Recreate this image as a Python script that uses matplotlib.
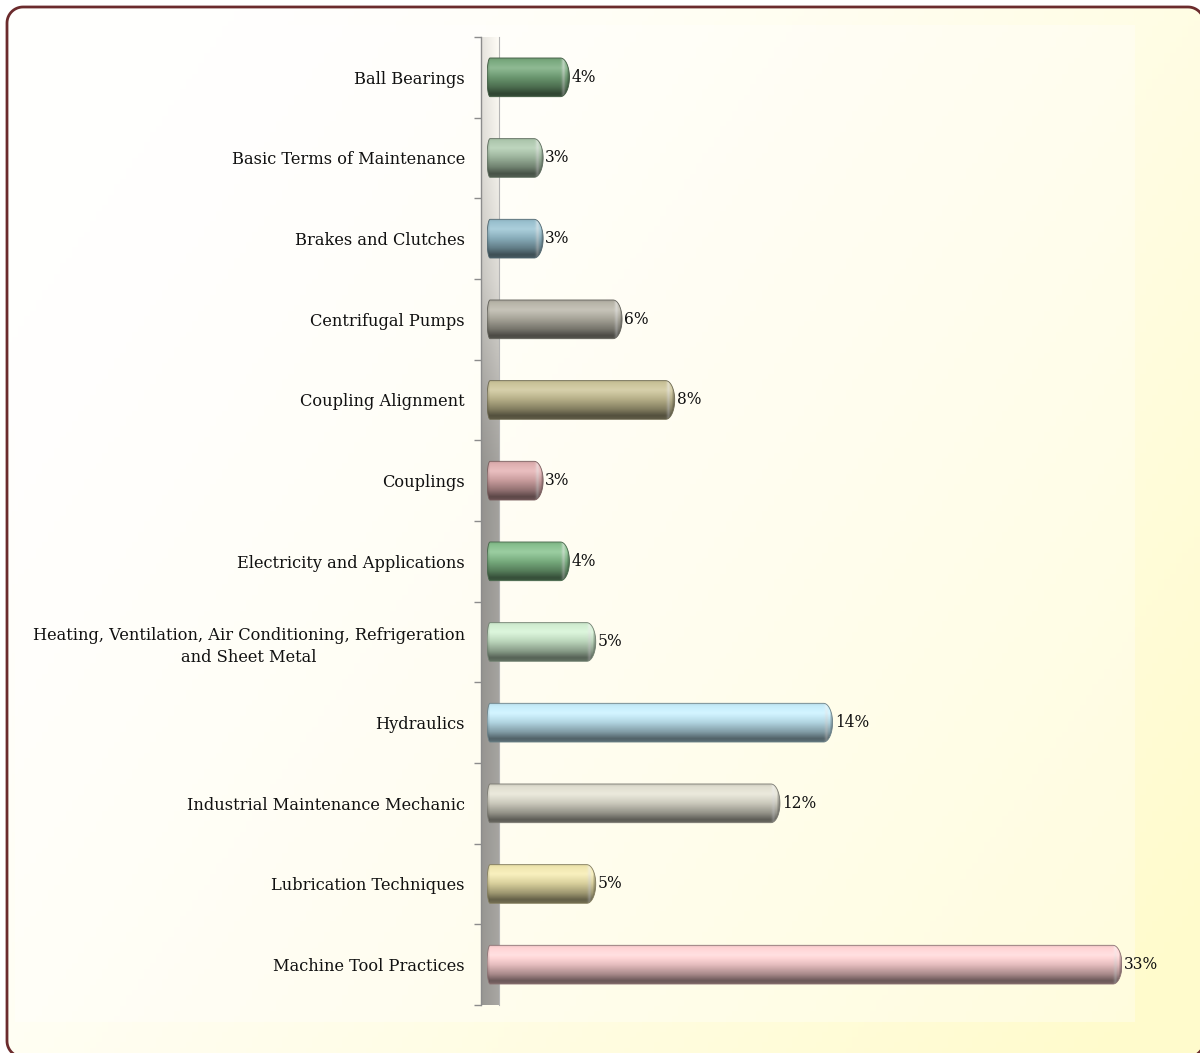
import numpy as np
import matplotlib
matplotlib.use("Agg")
import matplotlib.pyplot as plt
from matplotlib.path import Path
from matplotlib.patches import PathPatch, Rectangle
import matplotlib.colors as mcolors

# ---------------- data ----------------
categories = [
    "Ball Bearings",
    "Basic Terms of Maintenance",
    "Brakes and Clutches",
    "Centrifugal Pumps",
    "Coupling Alignment",
    "Couplings",
    "Electricity and Applications",
    "Heating, Ventilation, Air Conditioning, Refrigeration\nand Sheet Metal",
    "Hydraulics",
    "Industrial Maintenance Mechanic",
    "Lubrication Techniques",
    "Machine Tool Practices",
]
percent_values = [4, 3, 3, 6, 8, 3, 4, 5, 14, 12, 5, 33]
bar_colors = [
    "#72a477", "#a9c4a9", "#93bccb", "#b3b0a3", "#c6be92", "#dcaaab",
    "#80bb87", "#cdebcd", "#c2eaf8", "#dedccd", "#eee4aa", "#ffd1d2",
]

# ---------------- layout ----------------
W, H = 1200, 1053
fig = plt.figure(figsize=(W / 100, H / 100), dpi=100)
fig.patch.set_facecolor("white")
FONT = "DejaVu Serif"
FS = 11.7

def fx(px):
    return px / W

def fy(py):
    return 1 - py / H

def rounded_rect_path(x0, y0, x1, y1, r):
    """Polygonal rounded rectangle (pixel coords, y up)."""
    pts = []
    corners = [(x1 - r, y1 - r, 0.0), (x0 + r, y1 - r, 90.0),
               (x0 + r, y0 + r, 180.0), (x1 - r, y0 + r, 270.0)]
    for cx, cy, a0 in corners:
        a = np.radians(np.linspace(a0, a0 + 90, 16))
        pts.append(np.column_stack([cx + r * np.cos(a), cy + r * np.sin(a)]))
    pts = np.vstack(pts + [pts[0][:1]])
    codes = [Path.MOVETO] + [Path.LINETO] * (len(pts) - 2) + [Path.CLOSEPOLY]
    return Path(pts, codes)

# background (pixel coordinates, y measured upward)
bg = fig.add_axes([0, 0, 1, 1])
bg.set_axis_off()
gy, gx = np.mgrid[0:1:200j, 0:1:200j]
t = np.clip(0.75 * gx + 0.45 * gy - 0.15, 0, 1) ** 1.3
white = np.array([1.0, 1.0, 0.995])
yellow = np.array([1.0, 0.985, 0.80])
grad = white[None, None, :] * (1 - t[..., None]) + yellow[None, None, :] * t[..., None]
im_bg = bg.imshow(grad, extent=(0, W, 0, H), origin="upper", aspect="auto", zorder=0)
border = PathPatch(rounded_rect_path(7, -4, 1204, H - 7, 16), facecolor="none",
                   edgecolor="#6b2b2d", linewidth=2.0, zorder=3, transform=bg.transData)
bg.add_patch(border)
im_bg.set_clip_path(border)
bg.add_patch(Rectangle((15, H - 1022), 1120, 997, facecolor="white", alpha=0.35,
                       edgecolor="none", zorder=1))
bg.set_xlim(0, W)
bg.set_ylim(0, H)

n = len(categories)
ax_left, ax_right = 487, 1122
ax_top, ax_bot = 37, 1005

# wall
wall = fig.add_axes([fx(481), fy(ax_bot), (499 - 481) / W, (ax_bot - ax_top) / H])
wy = np.linspace(0, 1, 300)
stops_t = [0.0, 0.12, 0.25, 0.38, 0.45, 1.0]
stops_v = [0.97, 0.93, 0.84, 0.68, 0.62, 0.64]
vals = np.interp(wy, stops_t, stops_v)
wx = np.linspace(0, 1, 20)
shade = vals[:, None] * (0.93 + 0.1 * wx[None, :])
wall_img = np.clip(np.dstack([shade, shade * 0.99, shade * 0.965]), 0, 1)
wall.imshow(wall_img, extent=(0, 1, n - 0.5, -0.5), aspect="auto")
wall.set_xlim(0, 1)
wall.set_ylim(n - 0.5, -0.5)
wall.set_xticks([])
wall.set_yticks(np.arange(-0.5, n, 1.0))
wall.set_yticklabels([])
wall.tick_params(axis="y", length=5, width=1.0, color="#8c8c8c", direction="out")
for s in ["top", "bottom"]:
    wall.spines[s].set_visible(False)
wall.spines["left"].set_color("#8c8c8c")
wall.spines["left"].set_linewidth(1.0)
wall.spines["right"].set_color("#b4b4b4")
wall.spines["right"].set_linewidth(0.8)

# bars axes
ax = fig.add_axes([fx(ax_left), fy(ax_bot), (ax_right - ax_left) / W, (ax_bot - ax_top) / H])
ax.patch.set_alpha(0)
XMIN, XMAX = 0.867, 25.0
ax.set_xlim(XMIN, XMAX)
ax.set_ylim(n - 0.5, -0.5)
for s in ax.spines.values():
    s.set_visible(False)
ax.set_xticks([])

px_per_x = (ax_right - ax_left) / (XMAX - XMIN)
bar_h = 0.48
cap_px = 9.0
left_px = 3.0

t_stops = [0.0, 0.06, 0.25, 0.5, 0.75, 0.92, 1.0]
m_stops = [0.90, 1.0, 1.04, 0.90, 0.66, 0.42, 0.48]
w_stops = [0.05, 0.05, 0.18, 0.02, 0.0, 0.0, 0.0]

for i, (v, col) in enumerate(zip(percent_values, bar_colors)):
    end = min(v, XMAX)
    base = np.array(mcolors.to_rgb(col))
    L = (end - XMIN) * px_per_x
    nx = max(int(L), 10)
    ny = 60
    ty = np.linspace(0, 1, ny)
    mult = np.interp(ty, t_stops, m_stops)
    wmix = np.interp(ty, t_stops, w_stops)
    xs = np.linspace(0, L, nx)
    d = L - xs  # px from the end
    hl = np.exp(-((d - 6.0) / 1.8) ** 2) * 0.5
    dark_end = np.clip(1 - (3.0 - d) / 3.0 * 0.35, 0.65, 1.0)
    dark_left = np.clip(0.85 + 0.15 * xs / 3.0, 0.85, 1.0)
    img = base[None, None, :] * mult[:, None, None]
    img = img * (1 - wmix[:, None, None]) + wmix[:, None, None]
    img = img * dark_end[None, :, None] * dark_left[None, :, None]
    img = img * (1 - hl[None, :, None]) + hl[None, :, None] * \
        (0.6 + 0.4 * (1 - ty))[:, None, None]
    img = np.clip(img, 0, 1)

    y0, y1 = i - bar_h / 2, i + bar_h / 2
    c = cap_px / px_per_x
    lr = left_px / px_per_x
    hy = bar_h / 2
    th = np.linspace(-np.pi / 2, np.pi / 2, 40)
    cap = np.column_stack([end - c + c * np.cos(th), i + hy * np.sin(th)])
    thl = np.linspace(np.pi / 2, 3 * np.pi / 2, 20)
    lcap = np.column_stack([XMIN + lr + lr * np.cos(thl), i + hy * np.sin(thl)])
    verts = np.vstack([cap, lcap, cap[:1]])
    codes = [Path.MOVETO] + [Path.LINETO] * (len(verts) - 2) + [Path.CLOSEPOLY]
    path = Path(verts, codes)
    edge = tuple(np.clip(base * 0.55, 0, 1))
    patch = PathPatch(path, facecolor="none", edgecolor=edge, linewidth=0.6,
                      transform=ax.transData, zorder=3)
    ax.add_patch(patch)
    im = ax.imshow(img, extent=(XMIN, end, y1, y0), aspect="auto", zorder=2,
                   interpolation="bilinear")
    im.set_clip_path(patch)
    ax.annotate(f"{v}%", xy=(end, i), xytext=(1.5, 0), textcoords="offset points",
                ha="left", va="center", fontsize=FS - 0.5, family=FONT, color="#111111")

ax.set_xlim(XMIN, XMAX)
ax.set_ylim(n - 0.5, -0.5)
ax.set_yticks(np.arange(n))
ax.set_yticklabels(categories, family=FONT, fontsize=FS, color="#111111",
                   multialignment="center", linespacing=1.35)
ax.tick_params(axis="y", length=0, pad=16)

fig.savefig("out.png", dpi=100)
